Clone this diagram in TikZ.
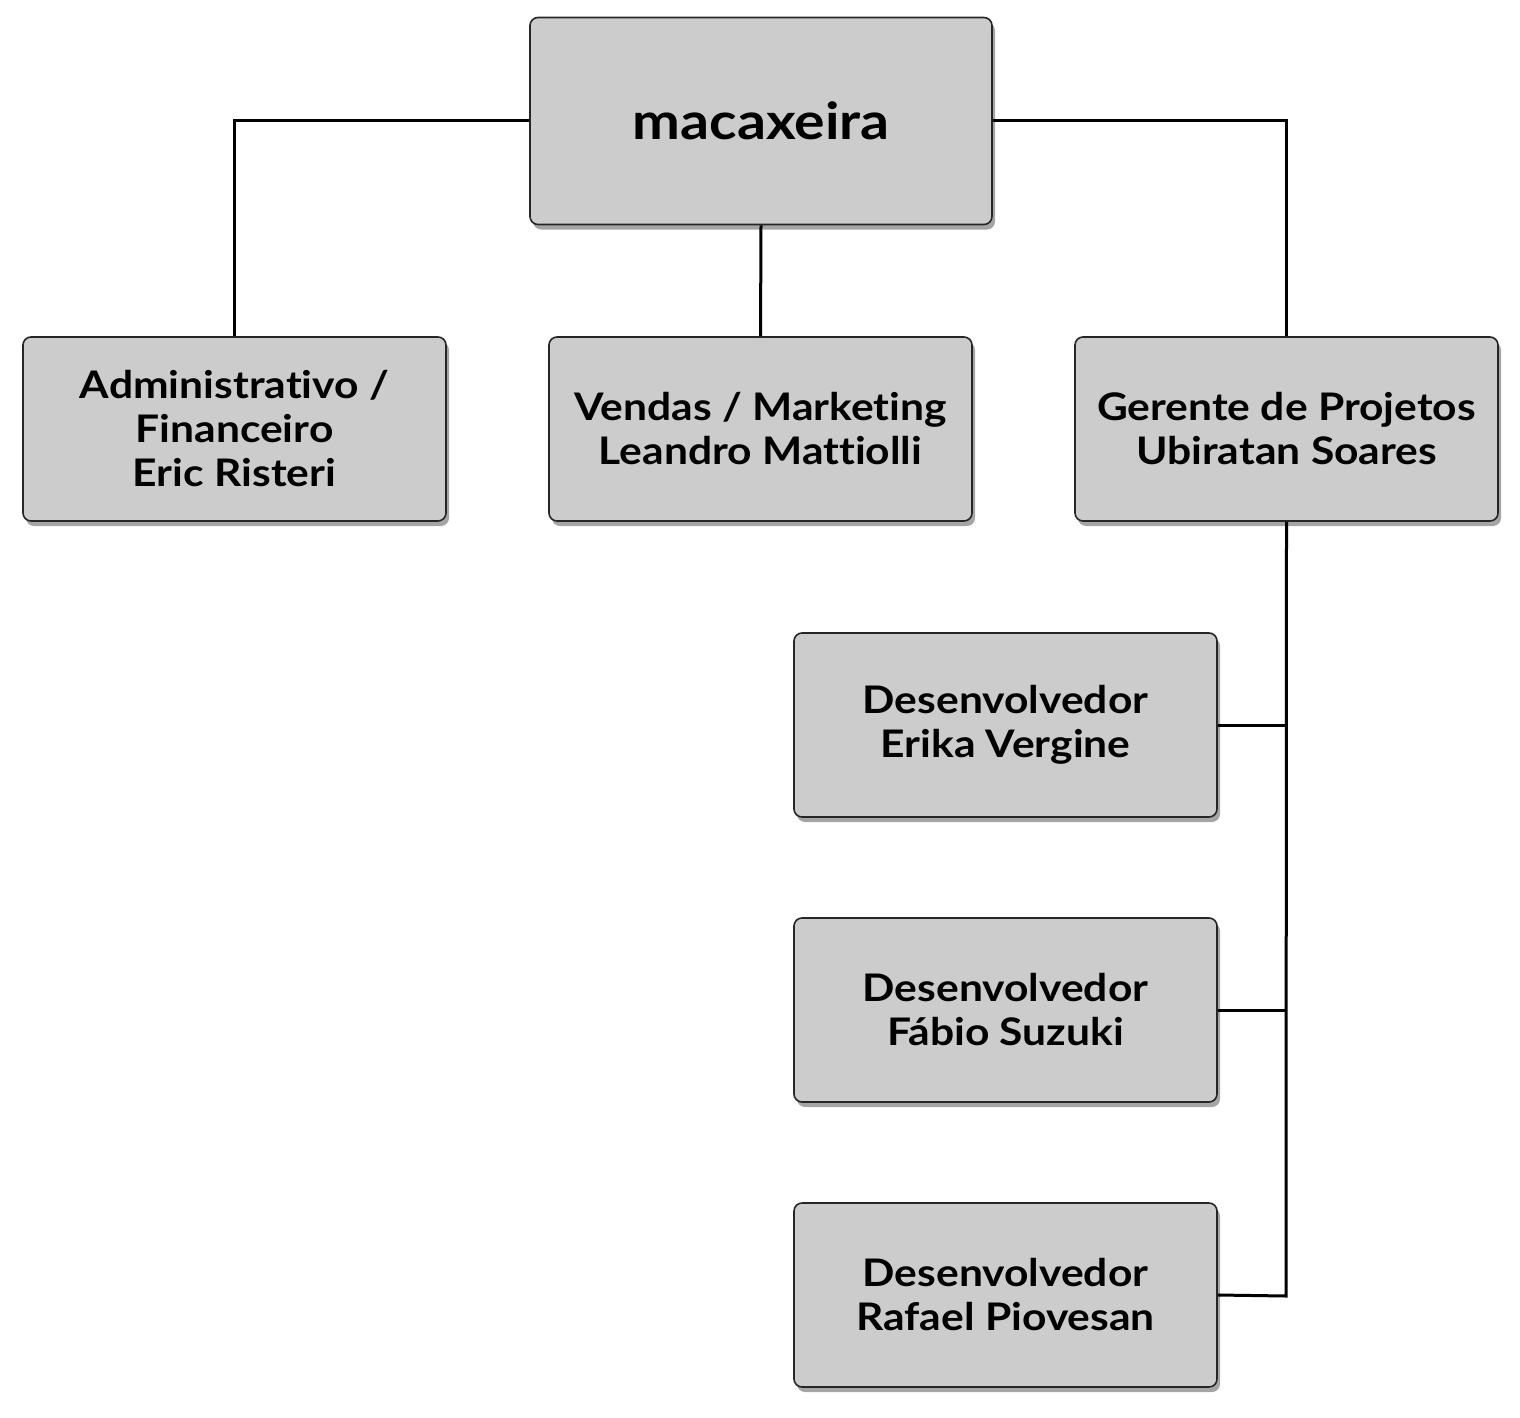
\documentclass[tikz,border=0pt]{standalone}
\usepackage{fontspec}
\setmainfont[Ligatures=NoCommon, BoldFeatures={FakeStretch=1.12, Ligatures=NoCommon}]{Lato}
\usetikzlibrary{shadows}
\begin{document}
\begin{tikzpicture}[x=1pt,y=-1pt,
  orgbox/.style={draw=black!85, line width=1.6pt, fill=black!20, rounded corners=8pt,
    minimum width=423pt, minimum height=184pt, align=center,
    font=\fontsize{38}{44}\selectfont\bfseries,
    drop shadow={shadow xshift=3pt, shadow yshift=-5pt, opacity=0.5, fill=black!70}},
  link/.style={line width=3pt, black}]
\useasboundingbox (0,0) rectangle (1520,1418);
\node[orgbox, minimum width=462pt, minimum height=207pt, font=\fontsize{51}{56}\selectfont\bfseries] (top) at (761,121) {macaxeira};
\node[orgbox] (adm) at (234.5,429) {Administrativo /\\Financeiro\\Eric Risteri};
\node[orgbox] (ven) at (760.5,429) {Vendas / Marketing\\Leandro Mattiolli};
\node[orgbox] (ger) at (1286.5,429) {Gerente de Projetos\\Ubiratan Soares};
\node[orgbox] (d1) at (1005.5,725) {Desenvolvedor\\Erika Vergine};
\node[orgbox] (d2) at (1005.5,1010) {Desenvolvedor\\Fábio Suzuki};
\node[orgbox] (d3) at (1005.5,1295) {Desenvolvedor\\Rafael Piovesan};
\coordinate (j3) at (1286,1296);
\draw[link] (top.west) -| (adm.north);
\draw[link] (top.south) -- (ven.north);
\draw[link] (top.east) -| (ger.north);
\draw[link] (ger.south) -- (j3) -- (d3.east);
\draw[link] (d1.east) -- (d1.east -| j3);
\draw[link] (d2.east) -- (d2.east -| j3);
\end{tikzpicture}
\end{document}
